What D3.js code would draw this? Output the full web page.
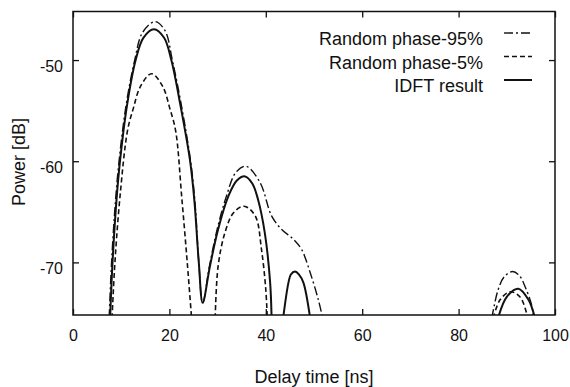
<!DOCTYPE html>
<html lang="en">

<head>
    <meta charset="UTF-8">
    <title>Delay profile</title>
    <script src="https://d3js.org/d3.v7.min.js"></script>
    <style>
        html,
        body {
            margin: 0;
            background: #fff;
        }

        text {
            font-family: "Liberation Sans", Arial, Helvetica, sans-serif;
            fill: #111;
        }
    </style>
</head>

<body>
    <div id="chart"></div>
    <script>
        // values: [delay ns, power dB], one array per lobe
        var seriesNames = ["Random phase-95%", "Random phase-5%", "IDFT result"];
        var xTicks = [0, 20, 40, 60, 80, 100];
        var yTicks = [-50, -60, -70];

        var p95Lobes = [
            [[7.5, -75.5], [8.0, -70], [8.8, -64], [9.55, -60], [11.0, -54.5], [12.8, -50], [14.4, -47.3],
            [17.0, -46.2], [19.1, -47.1], [20.6, -50], [22.5, -54.5], [24.4, -60], [25.3, -64], [26.1, -70],
            [26.9, -74.0], [28.3, -70.4], [29.9, -66.75], [31.8, -63.5], [33.8, -61.1], [35.9, -60.5],
            [38.8, -62.1], [41.2, -65.4], [43.3, -66.75], [45.7, -67.7], [47.4, -68.7], [49.2, -71.0], [50.9, -73.7],
            [51.8, -75.5]],
            [[86.9, -75.5], [88.2, -72.7], [89.5, -71.4], [91.2, -70.9], [92.6, -71.3], [93.8, -72.4], [95.2, -74.3],
            [95.5, -75.5]]
        ];

        var p5Lobes = [
            [[8.1, -75.5], [8.7, -70], [9.75, -63.5], [11.3, -57], [12.5, -54.8], [14.0, -52.6], [16.3, -51.35],
            [18.6, -52.6], [20.1, -54.8], [21.3, -57], [22.55, -63.5], [23.7, -70], [24.6, -75.5]],
            [[29.5, -75.5], [30.1, -70.4], [31.5, -67.1], [33.3, -65.1], [35.5, -64.45], [37.8, -65.4], [39.1, -68.7],
            [40.0, -72.7], [40.3, -75.5]],
            [[87.2, -75.5], [88.6, -73.7], [90.7, -72.9], [92.7, -73.4], [94.1, -75.0], [94.3, -75.5]]
        ];

        var idftLobes = [
            [[7.7, -75.5], [8.2, -70], [9.0, -64], [9.75, -60], [11.2, -54.5], [13.0, -50], [14.6, -47.8],
            [16.8, -46.95], [18.9, -47.8], [20.4, -50], [22.3, -54.5], [24.3, -60], [25.2, -64], [26.1, -70],
            [26.9, -74.0], [28.4, -70.4], [30.1, -66.75], [32.2, -63.5], [34.0, -61.9], [35.7, -61.5],
            [37.2, -62.2], [38.4, -63.8], [39.8, -67.1], [40.9, -72], [41.2, -75.5]],
            [[43.6, -75.5], [44.7, -72], [45.2, -71.2], [46.05, -70.9], [46.9, -71.2], [47.8, -72], [49.2, -75.5]],
            [[88.2, -75.5], [90.0, -73.4], [92.4, -72.6], [94.5, -73.7], [95.85, -75.5]]
        ];

        var width = 570;
        var height = 387;
        var plot = { left: 73, right: 555, top: 11.5, bottom: 315 };

        var svg = d3.select('#chart')
            .append('svg')
            .attr('width', width)
            .attr('height', height);

        var x_scale = d3.scaleLinear()
            .domain([0, 100])
            .range([plot.left, plot.right]);

        var y_scale = d3.scaleLinear()
            .domain([-75.2, -45.2])
            .range([plot.bottom, plot.top]);

        svg.append('clipPath')
            .attr('id', 'clip')
            .append('rect')
            .attr('x', plot.left)
            .attr('y', plot.top)
            .attr('width', plot.right - plot.left)
            .attr('height', plot.bottom - plot.top);

        // plain hyphen minus like the original, not the unicode one
        var fmt = function (d) { return String(d); };

        // axes: ticks point inward on all four sides
        var tickLen = 6;
        svg.append('g')
            .attr('transform', 'translate(0,' + plot.bottom + ')')
            .call(d3.axisBottom(x_scale).tickValues(xTicks).tickSize(-tickLen).tickPadding(15).tickFormat(fmt));
        svg.append('g')
            .attr('transform', 'translate(0,' + plot.top + ')')
            .call(d3.axisTop(x_scale).tickValues(xTicks).tickSize(-tickLen).tickFormat(''));
        svg.append('g')
            .attr('class', 'yaxis')
            .attr('transform', 'translate(' + plot.left + ',0)')
            .call(d3.axisLeft(y_scale).tickValues(yTicks).tickSize(-tickLen).tickPadding(10).tickFormat(fmt));
        svg.append('g')
            .attr('transform', 'translate(' + plot.right + ',0)')
            .call(d3.axisRight(y_scale).tickValues(yTicks).tickSize(-tickLen).tickFormat(''));

        svg.selectAll('.domain').remove();
        svg.selectAll('.tick line')
            .attr('stroke', '#111')
            .attr('stroke-width', 1.3);
        svg.selectAll('.tick text')
            .style('font-size', '16px')
            .attr('fill', '#111');
        // y labels sit a little below their ticks in the scan
        svg.selectAll('.yaxis .tick text')
            .attr('dy', '0.32em')
            .attr('y', 6);

        svg.append('rect')
            .attr('x', plot.left)
            .attr('y', plot.top)
            .attr('width', plot.right - plot.left)
            .attr('height', plot.bottom - plot.top)
            .attr('fill', 'none')
            .attr('stroke', '#111')
            .attr('stroke-width', 1.5);

        var line = d3.line()
            .x(function (d) { return x_scale(d[0]); })
            .y(function (d) { return y_scale(d[1]); })
            .curve(d3.curveCatmullRom.alpha(0.5));

        var styles = [
            { lobes: p95Lobes, dash: '9,3,2,3', w: 1.4 },
            { lobes: p5Lobes, dash: '5,3', w: 1.6 },
            { lobes: idftLobes, dash: null, w: 2 }
        ];

        var curves = svg.append('g').attr('clip-path', 'url(#clip)');
        styles.forEach(function (s) {
            curves.selectAll(null)
                .data(s.lobes)
                .enter().append('path')
                .attr('d', line)
                .attr('fill', 'none')
                .attr('stroke', '#111')
                .attr('stroke-width', s.w)
                .attr('stroke-dasharray', s.dash);
        });

        // legend
        var legendBase = [45, 68.5, 92];
        var legend = svg.append('g');
        seriesNames.forEach(function (name, i) {
            legend.append('text')
                .attr('x', 483)
                .attr('y', legendBase[i])
                .attr('text-anchor', 'end')
                .style('font-size', '18px')
                .text(name);
            legend.append('line')
                .attr('x1', 504)
                .attr('x2', 532)
                .attr('y1', legendBase[i] - 12)
                .attr('y2', legendBase[i] - 12)
                .attr('stroke', '#111')
                .attr('stroke-width', styles[i].w)
                .attr('stroke-dasharray', styles[i].dash);
        });

        svg.append('text')
            .attr('x', 314)
            .attr('y', 383)
            .attr('text-anchor', 'middle')
            .style('font-size', '18px')
            .text('Delay time [ns]');

        svg.append('text')
            .attr('transform', 'translate(25,162) rotate(-90)')
            .attr('text-anchor', 'middle')
            .style('font-size', '18px')
            .text('Power [dB]');
    </script>
</body>

</html>
